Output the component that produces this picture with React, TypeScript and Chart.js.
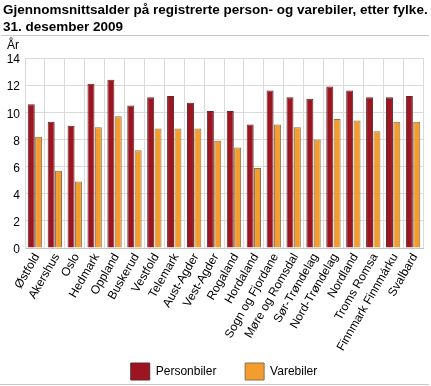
import { useEffect, useRef } from "react";
import { Chart, registerables } from "chart.js";

Chart.register(...registerables);

const categories = [
  "Østfold", "Akershus", "Oslo", "Hedmark", "Oppland", "Buskerud", "Vestfold",
  "Telemark", "Aust-Agder", "Vest-Agder", "Rogaland", "Hordaland",
  "Sogn og Fjordane", "Møre og Romsdal", "Sør-Trøndelag", "Nord-Trøndelag",
  "Nordland", "Troms Romsa", "Finnmark Finnmárku", "Svalbard",
];
const personbiler = [10.6, 9.3, 9.0, 12.1, 12.4, 10.5, 11.1, 11.2, 10.7, 10.1, 10.1, 9.1, 11.6, 11.1, 11.0, 11.9, 11.6, 11.1, 11.1, 11.2];
const varebiler = [8.2, 5.7, 4.9, 8.9, 9.7, 7.2, 8.8, 8.8, 8.8, 7.9, 7.4, 5.9, 9.1, 8.9, 8.0, 9.5, 9.4, 8.6, 9.3, 9.3];
const yTicks = [0, 2, 4, 6, 8, 10, 12, 14];

const FONT = "'Liberation Sans', Arial, Helvetica, sans-serif";

export default function App() {
  const ref = useRef<HTMLCanvasElement | null>(null);

  useEffect(() => {
    if (!ref.current) return;
    const chart = new Chart(ref.current, {
      type: "bar",
      data: {
        labels: categories,
        datasets: [
          {
            label: "Personbiler",
            data: personbiler,
            backgroundColor: "#9c1520",
            borderColor: "#5e2a2c",
            borderWidth: 1,
            barPercentage: 0.95,
            categoryPercentage: 0.74,
          },
          {
            label: "Varebiler",
            data: varebiler,
            backgroundColor: "#f49d2c",
            borderColor: "#857058",
            borderWidth: 1,
            barPercentage: 0.95,
            categoryPercentage: 0.74,
          },
        ],
      },
      options: {
        animation: false,
        responsive: false,
        maintainAspectRatio: false,
        layout: { padding: { top: 58, right: 8, bottom: 0, left: 0 } },
        plugins: {
          tooltip: { enabled: false },
          legend: {
            position: "bottom",
            fullSize: false,
            labels: {
              boxWidth: 19,
              boxHeight: 17,
              padding: 2,
              color: "#000",
              font: { family: FONT, size: 12 },
              generateLabels: (c: any) => {
                const items = Chart.defaults.plugins.legend.labels.generateLabels(c);
                return items.map((it: any, i: number) => ({
                  ...it,
                  text: i === 0 ? it.text + "\u00a0\u00a0\u00a0\u00a0\u00a0\u00a0\u00a0\u00a0" : it.text,
                }));
              },
            },
          },
        },
        scales: {
          x: {
            grid: { color: "#dadada", drawTicks: false, offset: true },
            border: { color: "#c4c4c4" },
            ticks: {
              autoSkip: false,
              minRotation: 60,
              maxRotation: 60,
              padding: 3,
              labelOffset: 2,
              color: "#000",
              font: { family: FONT, size: 12 },
            },
            afterFit: (scale: any) => {
              scale.height = 113;
            },
          },
          y: {
            min: 0,
            max: 14,
            afterBuildTicks: (scale: any) => {
              scale.ticks = yTicks.map((v) => ({ value: v }));
            },
            grid: { color: "#dadada", drawTicks: false },
            border: { color: "#dadada" },
            ticks: {
              padding: 5,
              labelOffset: 2,
              color: "#000",
              font: { family: FONT, size: 12 },
            },
            afterFit: (scale: any) => {
              scale.width = 25;
            },
          },
        },
      },
    });
    return () => chart.destroy();
  }, []);

  return (
    <div style={{ position: "fixed", left: 0, top: 0, width: 431, height: 386, overflow: "hidden", background: "#fff", fontFamily: FONT }}>
      <canvas ref={ref} width={431} height={390} style={{ position: "absolute", left: 0, top: 0, width: 431, height: 390 }} />
      <div style={{ position: "absolute", left: 3, top: 1, fontSize: 13.5, lineHeight: "17px", fontWeight: "bold", color: "#000", whiteSpace: "nowrap" }}>
        Gjennomsnittsalder på registrerte person- og varebiler, etter fylke.
        <br />
        31. desember 2009
      </div>
      <div style={{ position: "absolute", left: 1, top: 35, width: 428, height: 1, background: "#c8c8c8" }} />
      <div style={{ position: "absolute", left: 7, top: 38, fontSize: 12, lineHeight: "14px", color: "#000" }}>År</div>
      <div style={{ position: "absolute", left: 0, top: 384, width: 429, height: 1, background: "#c8c8c8" }} />
    </div>
  );
}
